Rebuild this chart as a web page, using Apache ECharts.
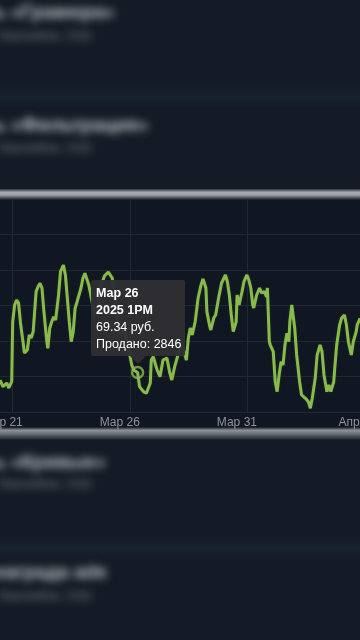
<!DOCTYPE html>
<html>
<head>
<meta charset="utf-8">
<script src="https://cdn.jsdelivr.net/npm/echarts@6/dist/echarts.min.js"></script>
<style>
html,body{margin:0;padding:0;background:#151b26;width:360px;height:640px;overflow:hidden;}
#chart{position:absolute;left:0;top:0;width:360px;height:640px;z-index:1;}
.blur{position:absolute;z-index:2;white-space:nowrap;font-family:"Liberation Sans",Arial,sans-serif;filter:blur(4px);}
.b1{font-size:19px;font-weight:bold;color:#c3c6cc;}
.b2{font-size:13px;font-weight:bold;color:#5f656e;}
</style>
</head>
<body>
<div id="chart"></div>
<div class="blur b1" style="left:-6px;top:1px;">ь «Гравюра»</div>
<div class="blur b2" style="left:-2px;top:28px;">Наклейки, CS2</div>
<div class="blur b1" style="left:-6px;top:114px;">ь «Фильтрация»</div>
<div class="blur b2" style="left:-2px;top:140px;">Наклейки, CS2</div>
<div class="blur b1" style="left:-6px;top:451px;">ь «Кривые»</div>
<div class="blur b2" style="left:-2px;top:476px;">Наклейки, CS2</div>
<div class="blur b1" style="left:-6px;top:561px;">награда ade</div>
<div class="blur b2" style="left:-2px;top:588px;">Наклейки, CS2</div>
<script>
// hours since Мар 21 00:00 (UTC)
const hours = [-8,-5,-1,1,4,5,7,9,11,13,16,17,20,22,24,26,29,31,33,35,37,40,41,43,45,47,49,52,54,57,59,61,63,65,67,69,71,73,75,77,79,81,83,86,89,92,95,99,103,107,110,113,116,119,122,125,127,129,133,135,139,142,146,147,149,153,156,159,163,166,168,171,175,177,180,183,185,187,189,192,195,198,200,203,204,207,208,211,213,216,219,223,225,227,229,231,234,235,237,240,242,245,247,249,251,252,255,258,260,263,265,266,268,269,272,274,276,278,280,282,284,286,288,289,291,293,294,296,299,301,305,308,310,312,315,317,320,322,324,327,329,331,334,335,337,340,342,345,347,349,352,354,357,358,361];
const prices = [68.70,68.14,68.45,68.03,68.56,73.63,75.04,75.47,75.21,73.52,71.66,70.99,71.24,72.51,72.25,72.79,76.17,76.59,76.88,76.48,74.48,71.94,71.38,73.10,73.63,74.05,73.77,75.89,77.86,78.42,77.58,75.63,73.63,71.94,72.79,74.79,75.32,75.47,76.48,77.32,77.72,77.72,76.73,75.47,74.20,74.79,76.48,77.49,77.83,77.32,75.47,73.61,72.51,72.93,72.08,70.82,69.97,69.55,69.34,68.14,67.72,67.58,68.45,70.39,70.67,69.55,68.98,70.39,70.56,69.30,68.70,69.83,70.99,71.66,71.24,70.39,72.25,73.10,72.51,73.63,75.63,76.73,77.24,76.48,74.48,73.21,72.93,73.94,74.20,75.63,76.88,77.58,77.01,75.89,74.20,72.79,73.63,75.89,75.04,76.17,77.01,77.58,77.15,76.48,75.04,74.79,75.89,76.48,76.06,76.17,75.74,76.48,71.94,71.66,71.10,68.56,67.72,69.13,70.25,69.97,71.66,72.65,71.94,73.63,75.04,75.19,73.10,70.82,68.56,67.44,67.16,66.87,66.31,67.16,68.85,70.82,71.66,71.10,69.13,67.72,68.28,67.72,68.56,69.69,71.66,73.35,73.92,74.20,73.35,71.94,70.82,71.94,72.79,73.35,73.92];
// day ticks (local midnight = 05:00 UTC)
const tickHours = [5,125,245,365];
const tickLabels = ['Мар 21','Мар 26','Мар 31','Апр 5'];
const tipHour = 133;
const tipPrice = 69.34;
const tipSold = 2846;
const tipDate = 'Мар 26';
const tipTime = '2025 1PM';

const lineData = hours.map((h,i)=>[h,prices[i]]);
const GREEN = '#8aba4d';
const GRID = '#1f2936';

const chart = echarts.init(document.getElementById('chart'), null, {renderer:'canvas'});
chart.setOption({
  animation:false,
  backgroundColor:'transparent',
  graphic:[
    {type:'rect',z:-10,shape:{x:0,y:0,width:360,height:640},style:{fill:'#151b26'}},
    {type:'rect',z:-9,shape:{x:0,y:86,width:360,height:22},style:{fill:{type:'linear',x:0,y:0,x2:0,y2:1,colorStops:[{offset:0,color:'rgba(24,34,48,0)'},{offset:0.5,color:'rgba(25,35,49,0.8)'},{offset:1,color:'rgba(24,34,48,0)'}]}}},
    {type:'rect',z:-9,shape:{x:0,y:537,width:360,height:22},style:{fill:{type:'linear',x:0,y:0,x2:0,y2:1,colorStops:[{offset:0,color:'rgba(24,34,48,0)'},{offset:0.5,color:'rgba(25,35,49,0.8)'},{offset:1,color:'rgba(24,34,48,0)'}]}}},
    {type:'rect',z:-8,shape:{x:0,y:190,width:360,height:248},style:{fill:'#101722'}},
    {type:'rect',z:-7,shape:{x:0,y:189,width:360,height:11},style:{fill:{type:'linear',x:0,y:0,x2:0,y2:1,colorStops:[{offset:0,color:'#2a3039'},{offset:0.3,color:'#a8abb0'},{offset:0.55,color:'#9a9ea4'},{offset:1,color:'#101722'}]}}},
    {type:'rect',z:-7,shape:{x:0,y:427,width:360,height:13},style:{fill:{type:'linear',x:0,y:0,x2:0,y2:1,colorStops:[{offset:0,color:'#101722'},{offset:0.25,color:'#8e9299'},{offset:0.5,color:'#6f747c'},{offset:1,color:'#1a202b'}]}}}
  ],
  grid:{left:0,right:-4,top:199,height:213,outerBoundsMode:'none',containLabel:false},
  xAxis:{
    type:'value', min:-8, max:365,
    axisLine:{show:false},
    axisTick:{show:false,customValues:tickHours},
    axisLabel:{customValues:tickHours,color:'#8b949e',fontSize:12,margin:5,padding:[0,20,0,0],
      fontFamily:'"Liberation Sans",Arial,sans-serif',
      formatter:(v)=>{const i=tickHours.indexOf(v);return i>=0?tickLabels[i]:'';}},
    splitLine:{show:true,lineStyle:{color:GRID,width:1}}
  },
  yAxis:{
    type:'value', min:66, max:84, interval:3,
    axisLine:{show:false}, axisTick:{show:false}, axisLabel:{show:false},
    splitLine:{show:true,lineStyle:{color:GRID,width:1}}
  },
  tooltip:{
    trigger:'item', triggerOn:'none', alwaysShowContent:true,
    backgroundColor:'rgba(47,48,51,0.97)', borderWidth:0, padding:[5,4,3,5],
    extraCssText:'box-shadow:none;border-radius:2px;',
    textStyle:{color:'#ffffff',fontSize:12.5,fontFamily:'"Liberation Sans",Arial,sans-serif'},
    position:function(point,params,dom,rect,size){
      return [point[0]-size.contentSize[0]/2, point[1]-size.contentSize[1]-16];
    },
    formatter:function(p){
      return '<div style="position:relative;line-height:17px;font-size:12.5px;color:#fff;">'+
        '<div style="font-weight:bold">'+tipDate+'</div>'+
        '<div style="font-weight:bold">'+tipTime+'</div>'+
        '<div>'+p.value[1].toFixed(2)+' руб.</div>'+
        '<div>Продано: '+tipSold+'</div>'+
        '</div>'+
        '<div style="position:absolute;left:50%;bottom:-8px;margin-left:-8px;width:0;height:0;border-left:8px solid transparent;border-right:8px solid transparent;border-top:8px solid rgba(47,48,51,0.97);"></div>';
    }
  },
  series:[
    {type:'line',data:lineData,showSymbol:false,symbol:'none',smooth:false,
     lineStyle:{color:GREEN,width:3,shadowColor:'rgba(40,70,20,0.8)',shadowBlur:2},z:2,silent:true},
    {type:'scatter',data:[[tipHour,tipPrice]],symbol:'circle',symbolSize:11,z:3,
     itemStyle:{color:'rgba(0,0,0,0)',borderColor:GREEN,borderWidth:2.5}}
  ]
});
chart.dispatchAction({type:'showTip',seriesIndex:1,dataIndex:0});
</script>
</body>
</html>
